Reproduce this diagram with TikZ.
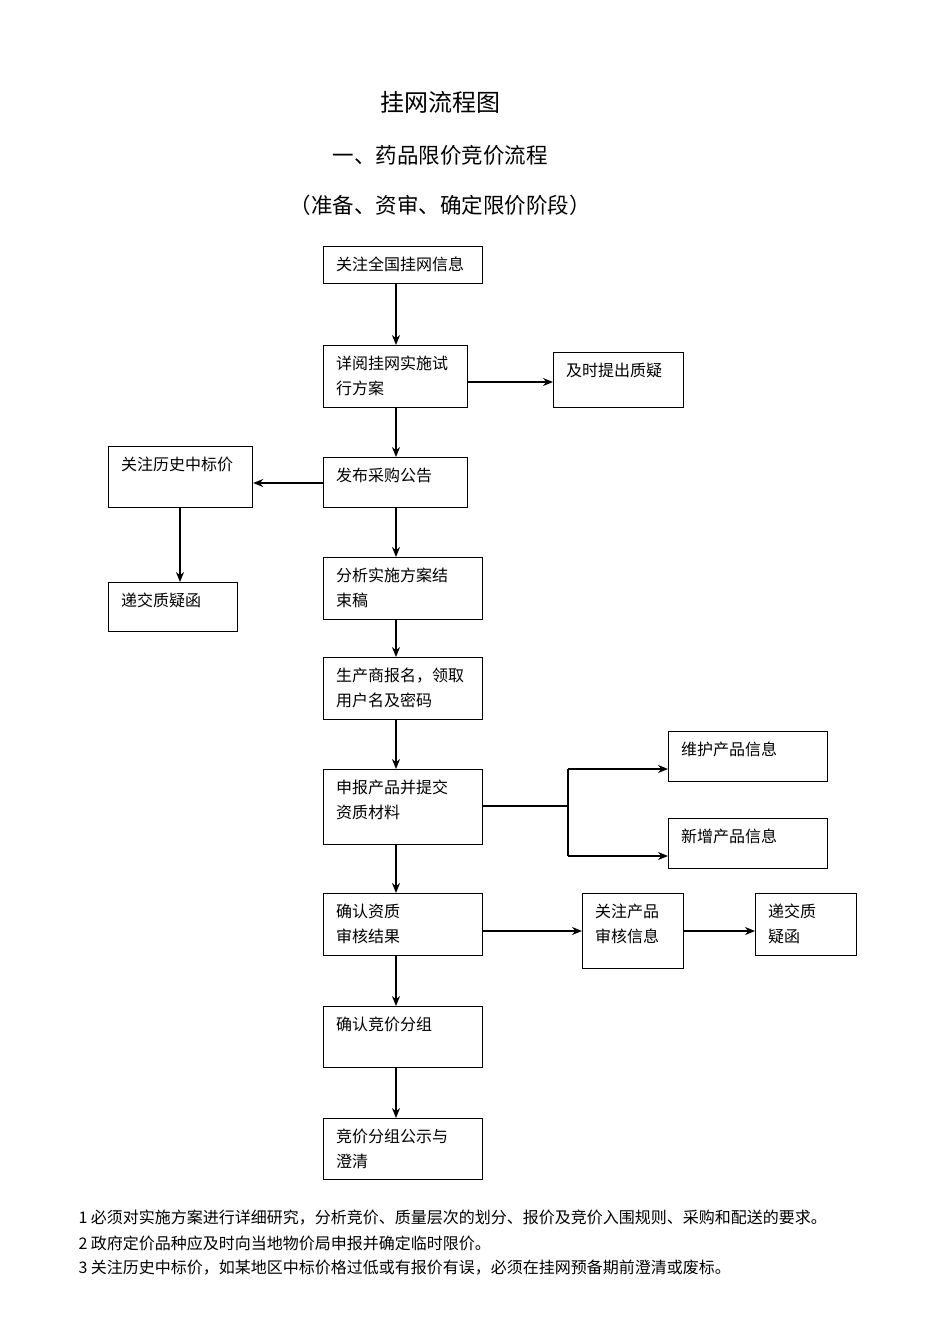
\documentclass[tikz,border=0pt]{standalone}
\usepackage{fontspec}
\setmainfont{Liberation Serif}
\newfontfamily\cjk{Noto Sans CJK SC}
\usetikzlibrary{calc,arrows.meta}
\begin{document}
\begin{tikzpicture}[x=1pt,y=-1pt,
  box/.style={draw,line width=1.2pt,anchor=north west,inner sep=0pt},
  txt/.style={anchor=north west,inner sep=0pt,align=left,font=\cjk\fontsize{16}{25}\selectfont},
  arr/.style={line width=1.4pt,-{Stealth[length=10pt,width=8pt]}},
  ln/.style={line width=1.4pt}]
\useasboundingbox (0,0) rectangle (950,1344);
\node[font=\cjk\fontsize{24}{28}\selectfont] (t1) at (440,102) {挂网流程图};
\node[font=\cjk\fontsize{21.5}{26}\selectfont] (t2) at (440,155) {一、药品限价竞价流程};
\node[font=\cjk\fontsize{21.5}{26}\selectfont] (t3) at (440,205) {（准备、资审、确定限价阶段）};
\newcommand\bx[6]{%
  \node[box,minimum width=#4-#2,minimum height=#5-#3] (#1) at (#2,#3) {};
  \node[txt] (#1t) at ($(#1.north west)+(13,11)$) {#6};}
\bx{a}{323}{246}{482}{283}{关注全国挂网信息}
\bx{b}{323}{345}{467}{407}{详阅挂网实施试\\行方案}
\bx{c}{553}{352}{683}{407}{及时提出质疑}
\bx{d}{108}{446}{252}{507}{关注历史中标价}
\bx{e}{323}{457}{467}{507}{发布采购公告}
\bx{f}{108}{582}{237}{631}{递交质疑函}
\bx{g}{323}{557}{482}{619}{分析实施方案结\\束稿}
\bx{h}{323}{657}{482}{719}{生产商报名，领取\\用户名及密码}
\bx{i}{323}{769}{482}{844}{申报产品并提交\\资质材料}
\bx{j}{668}{731}{827}{781}{维护产品信息}
\bx{k}{668}{818}{827}{868}{新增产品信息}
\bx{l}{323}{893}{482}{955}{确认资质\\审核结果}
\bx{m}{582}{893}{683}{968}{关注产品\\审核信息}
\bx{n}{755}{893}{856}{955}{递交质\\疑函}
\bx{o}{323}{1006}{482}{1067}{确认竞价分组}
\bx{p}{323}{1118}{482}{1179}{竞价分组公示与\\澄清}
\draw[arr] (396,283) -- (396,345);
\draw[arr] (b.east|-0,382) -- (c.west|-0,382);
\draw[arr] (396,407) -- (396,457);
\draw[arr] (e.west|-0,483) -- (d.east|-0,483);
\draw[arr] (180,507) -- (180,582);
\draw[arr] (396,507) -- (396,557);
\draw[arr] (396,619) -- (396,657);
\draw[arr] (396,719) -- (396,769);
\coordinate (s) at (568,806);
\draw[ln] (i.east|-s) -- (s);
\draw[ln] (568,769) -- (568,856);
\draw[arr] (568,769) -- (j.west|-0,769);
\draw[arr] (568,856) -- (k.west|-0,856);
\draw[arr] (396,844) -- (396,893);
\draw[arr] (l.east|-0,931) -- (m.west|-0,931);
\draw[arr] (m.east|-0,931) -- (n.west|-0,931);
\draw[arr] (396,955) -- (396,1006);
\draw[arr] (396,1067) -- (396,1118);
\node[anchor=west,font=\cjk\fontsize{16}{18}\selectfont] (f1) at (75,1218) {1 必须对实施方案进行详细研究，分析竞价、质量层次的划分、报价及竞价入围规则、采购和配送的要求。};
\node[anchor=west,font=\cjk\fontsize{16}{18}\selectfont] (f2) at (75,1243) {2 政府定价品种应及时向当地物价局申报并确定临时限价。};
\node[anchor=west,font=\cjk\fontsize{16}{18}\selectfont] (f3) at (75,1268) {3 关注历史中标价，如某地区中标价格过低或有报价有误，必须在挂网预备期前澄清或废标。};
\end{tikzpicture}
\end{document}
